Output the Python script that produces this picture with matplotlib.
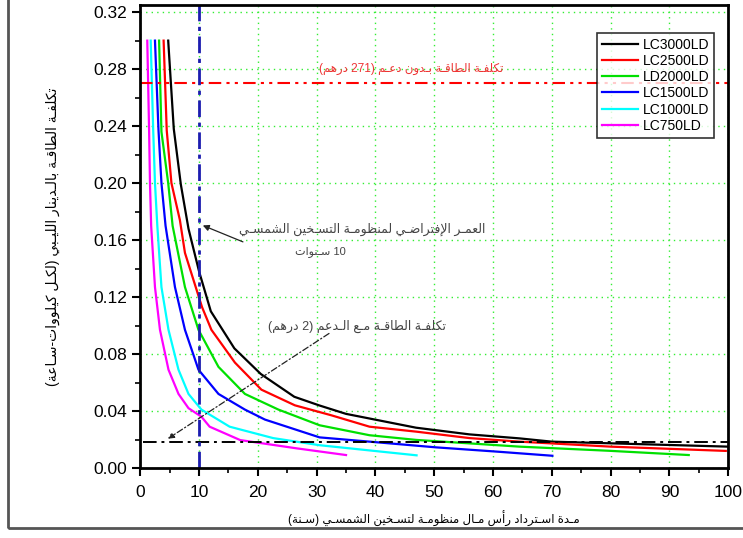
import re
import matplotlib
matplotlib.use("Agg")
import matplotlib.pyplot as plt
from matplotlib.patches import Rectangle

plt.rcParams['font.family'] = ['Liberation Sans', 'DejaVu Sans']

# --- data (payback period in years, cost per kWh) ---
x_3000 = [4.75, 5.7, 6.9, 8.2, 10.0, 12.0, 16.0, 20.5, 26.2, 30.4, 35, 46.9, 56, 64.5, 70, 100]
y_3000 = [0.300, 0.238, 0.199, 0.168, 0.138, 0.110, 0.084, 0.066, 0.050, 0.044, 0.038, 0.0283, 0.0236, 0.0208, 0.0185, 0.0150]

x_2500 = [3.97, 4.5, 5.3, 6.74, 7.6, 10.5, 12.1, 16.1, 20.6, 26.3, 32.5, 39, 47, 56, 64.5, 80, 99.6]
y_2500 = [0.300, 0.237, 0.200, 0.174, 0.151, 0.113, 0.097, 0.074, 0.055, 0.044, 0.037, 0.029, 0.0255, 0.021, 0.0185, 0.015, 0.012]

x_2000 = [3.2, 3.6, 4.75, 5.5, 7.6, 9.9, 13.3, 17.8, 23.5, 30.5, 39, 47, 64.5, 79.7, 93.3]
y_2000 = [0.300, 0.236, 0.200, 0.170, 0.127, 0.097, 0.071, 0.052, 0.041, 0.030, 0.023, 0.0197, 0.015, 0.0121, 0.0091]

x_1500 = [2.5, 3.1, 3.6, 4.3, 5.9, 7.6, 9.9, 13.3, 17.8, 21.2, 30.5, 39, 50.3, 61, 70.1]
y_1500 = [0.300, 0.237, 0.200, 0.170, 0.127, 0.097, 0.069, 0.052, 0.041, 0.034, 0.0215, 0.0185, 0.0145, 0.0114, 0.0086]

x_1000 = [1.77, 2.2, 2.5, 2.9, 3.6, 4.8, 6.5, 8.2, 10.4, 15.2, 22.6, 30.5, 47]
y_1000 = [0.300, 0.237, 0.200, 0.170, 0.127, 0.097, 0.069, 0.052, 0.041, 0.029, 0.021, 0.016, 0.0089]

x_750 = [1.19, 1.5, 1.65, 1.85, 2.5, 3.35, 4.8, 6.5, 8.2, 10.4, 11.8, 17, 26.6, 35]
y_750 = [0.300, 0.237, 0.200, 0.170, 0.127, 0.097, 0.069, 0.052, 0.042, 0.036, 0.029, 0.0196, 0.0138, 0.0091]

series_names = ['LC3000LD', 'LC2500LD', 'LD2000LD', 'LC1500LD', 'LC1000LD', 'LC750LD']
series_x = [x_3000, x_2500, x_2000, x_1500, x_1000, x_750]
series_y = [y_3000, y_2500, y_2000, y_1500, y_1000, y_750]
series_colors = ['black', '#ff0000', '#00e000', '#0000ff', '#00ffff', '#ff00ff']

cost_no_subsidy = 0.27     # red reference line
cost_subsidy = 0.0185      # black reference line
lifetime_years = 10        # blue vertical line

txt_ylabel = "تكلفـة الطاقـة بالـدينار الليـبي (لكـل كيلووات-سـاعة)"
txt_xlabel = "مـدة اسـترداد رأس مـال منظومـة لتسـخين الشمسـي (سـنة)"
txt_red = "تكلفـة الطاقـة بـدون دعـم (271 درهم)"
txt_life1 = "العمـر الإفتراضـي لمنظومـة التسـخين الشمسـي"
txt_life2 = "10 سـنوات"
txt_sub = "تكلفـة الطاقـة مـع الـدعم (2 درهم)"


# --- minimal Arabic shaping (matplotlib draws glyphs without joining / bidi) ---
FORMS = {
    'ء': (0xFE80, 1), 'آ': (0xFE81, 2), 'أ': (0xFE83, 2), 'ؤ': (0xFE85, 2),
    'إ': (0xFE87, 2), 'ئ': (0xFE89, 4), 'ا': (0xFE8D, 2), 'ب': (0xFE8F, 4),
    'ة': (0xFE93, 2), 'ت': (0xFE95, 4), 'ث': (0xFE99, 4), 'ج': (0xFE9D, 4),
    'ح': (0xFEA1, 4), 'خ': (0xFEA5, 4), 'د': (0xFEA9, 2), 'ذ': (0xFEAB, 2),
    'ر': (0xFEAD, 2), 'ز': (0xFEAF, 2), 'س': (0xFEB1, 4), 'ش': (0xFEB5, 4),
    'ص': (0xFEB9, 4), 'ض': (0xFEBD, 4), 'ط': (0xFEC1, 4), 'ظ': (0xFEC5, 4),
    'ع': (0xFEC9, 4), 'غ': (0xFECD, 4), 'ف': (0xFED1, 4), 'ق': (0xFED5, 4),
    'ك': (0xFED9, 4), 'ل': (0xFEDD, 4), 'م': (0xFEE1, 4), 'ن': (0xFEE5, 4),
    'ه': (0xFEE9, 4), 'و': (0xFEED, 2), 'ى': (0xFEEF, 2), 'ي': (0xFEF1, 4),
    'لآ': (0xFEF5, 2), 'لأ': (0xFEF7, 2), 'لإ': (0xFEF9, 2), 'لا': (0xFEFB, 2),
}
TATWEEL = 'ـ'


def ar(s):
    toks, i = [], 0
    while i < len(s):
        if s[i] == 'ل' and i + 1 < len(s) and s[i + 1] in 'اأإآ':
            toks.append(s[i:i + 2]); i += 2
        else:
            toks.append(s[i]); i += 1

    def is_ar(t):
        return t in FORMS or t == TATWEEL

    def joins_next(t):
        return t == TATWEEL or (t in FORMS and FORMS[t][1] == 4)

    out = []
    for k, t in enumerate(toks):
        if t not in FORMS:
            out.append(t)
            continue
        base, nf = FORMS[t]
        prev_j = k > 0 and joins_next(toks[k - 1])
        next_j = joins_next(t) and k + 1 < len(toks) and is_ar(toks[k + 1])
        if nf == 1:
            cp = base
        elif nf == 2:
            cp = base + 1 if prev_j else base
        else:
            if prev_j and next_j:
                cp = base + 3
            elif prev_j:
                cp = base + 1
            elif next_j:
                cp = base + 2
            else:
                cp = base
        out.append(chr(cp))
    vis = ''.join(out)[::-1]
    vis = vis.translate(str.maketrans('()', ')('))
    return re.sub(r'[0-9A-Za-z.]+', lambda m: m.group(0)[::-1], vis)


fig = plt.figure(figsize=(7.43, 5.38), dpi=100)
ax = fig.add_axes([0.1888, 0.1301, 0.7912, 0.8606])

ax.grid(True, which='major', color='#33ee33', linestyle=(0, (1, 3)), linewidth=1.0)
ax.set_axisbelow(True)

for xs, ys, name, col in zip(series_x, series_y, series_names, series_colors):
    ax.plot(xs, ys, color=col, linewidth=1.6, label=name)

ax.axhline(cost_no_subsidy, color='#ff0000', linewidth=1.5, linestyle=(0, (6, 2.5, 1.5, 2.5, 1.5, 2.5)))
ax.plot([0.5, 100], [cost_subsidy, cost_subsidy], color='black', linewidth=1.4, linestyle=(0, (7, 2.5, 1.5, 2.5)))
ax.axvline(lifetime_years, color='#1c1cb0', linewidth=2.0, linestyle=(0, (6, 2, 1.5, 2)))

ax.text(46.0, 0.2805, ar(txt_red), color='#ee3333', fontsize=8.5, ha='center', va='center')
ax.text(37.8, 0.1675, ar(txt_life1), color='#444444', fontsize=9, ha='center', va='center')
ax.text(30.7, 0.152, ar(txt_life2), color='#444444', fontsize=8, ha='center', va='center')
ax.annotate('', xy=(10.2, 0.171), xytext=(17.9, 0.158),
            arrowprops=dict(arrowstyle='-|>', color='#222222', lw=0.9, mutation_scale=9))
ax.text(36.8, 0.0995, ar(txt_sub), color='#444444', fontsize=9, ha='center', va='center')
ax.annotate('', xy=(4.3, 0.0195), xytext=(32.5, 0.0955),
            arrowprops=dict(arrowstyle='-|>', color='#222222', lw=0.9, linestyle=(0, (5, 2, 1, 2)),
                            mutation_scale=9))

ax.set_xlim(0, 100)
ax.set_ylim(0, 0.325)
ax.set_xticks(range(0, 101, 10))
ax.set_xticks(range(5, 100, 10), minor=True)
ax.set_yticks([0.0, 0.04, 0.08, 0.12, 0.16, 0.20, 0.24, 0.28, 0.32])
ax.set_yticks([0.02, 0.06, 0.10, 0.14, 0.18, 0.22, 0.26, 0.30], minor=True)
ax.yaxis.set_major_formatter(matplotlib.ticker.FormatStrFormatter('%.2f'))
ax.tick_params(which='major', direction='out', length=6, width=1.5, labelsize=12.5, colors='black')
ax.tick_params(which='minor', direction='out', length=3.5, width=1.2)
ax.tick_params(axis='x', pad=6)
for sp in ax.spines.values():
    sp.set_linewidth(2.0)

ax.set_xlabel(ar(txt_xlabel), fontsize=8.5, labelpad=8)
ax.set_ylabel(ar(txt_ylabel), fontsize=10, labelpad=24)

leg = ax.legend(loc='upper right', bbox_to_anchor=(0.976, 0.94), fontsize=10, frameon=True,
                fancybox=False, handlelength=2.6, labelspacing=0.16, borderpad=0.35,
                handletextpad=0.3, borderaxespad=0)
leg.get_frame().set_edgecolor('black')
leg.get_frame().set_linewidth(1.2)

# grey page frame seen on the left and bottom of the reference
fig.patches.append(Rectangle((8 / 743, 1 - 528 / 538), 1.0, 1.0, transform=fig.transFigure,
                             fill=False, edgecolor='#555555', linewidth=2.0))

fig.savefig('out.png', dpi=100)
